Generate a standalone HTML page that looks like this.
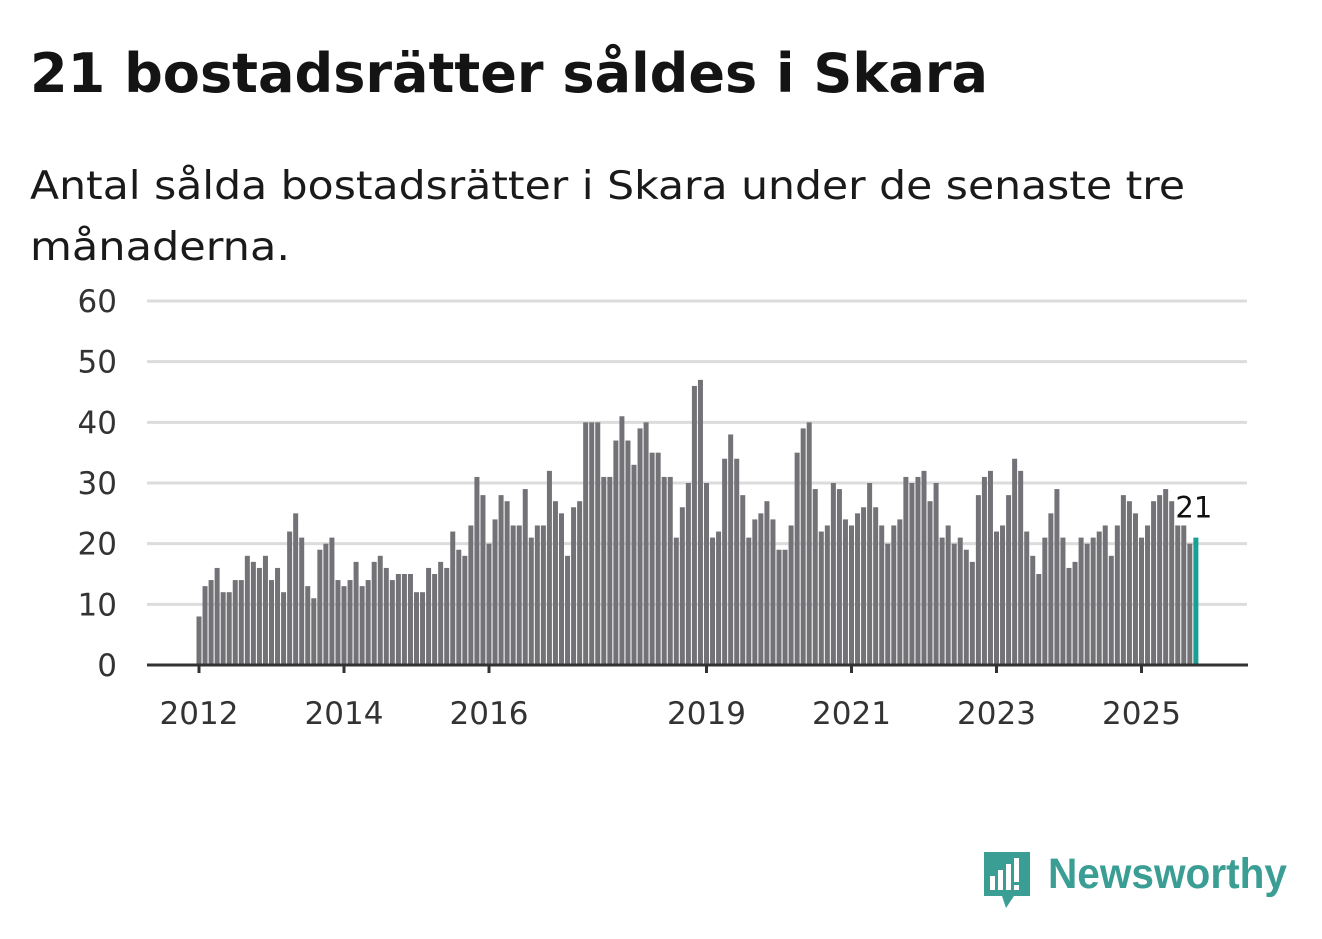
<!DOCTYPE html>
<html><head><meta charset="utf-8"><style>
html,body{margin:0;padding:0;background:#fff;}
svg{display:block;font-family:"DejaVu Sans","Liberation Sans",sans-serif;}
</style></head><body>
<svg width="1322" height="939" viewBox="0 0 1322 939">
<text x="30" y="92" font-size="54" font-weight="bold" fill="#141414" textLength="958" lengthAdjust="spacingAndGlyphs">21 bostadsrätter såldes i Skara</text>
<text x="30" y="199" font-size="39" fill="#1a1a1a" textLength="1155" lengthAdjust="spacingAndGlyphs">Antal sålda bostadsrätter i Skara under de senaste tre</text>
<text x="30" y="260" font-size="39" fill="#1a1a1a" textLength="260" lengthAdjust="spacingAndGlyphs">månaderna.</text>
<g id="grid"></g>
<g id="bars"></g>
<g id="xaxis"></g>
<g>
<path d="M984 852 h46 v44 h-16 l-8 12 l-4 -12 h-18 z" fill="#3a9e94"/>
<rect x="990" y="876" width="5" height="14" fill="#fff"/>
<rect x="998" y="870" width="5" height="20" fill="#fff"/>
<rect x="1006" y="864" width="5" height="26" fill="#fff"/>
<rect x="1014" y="858" width="5" height="24" fill="#fff"/>
<rect x="1014" y="885" width="5" height="5" fill="#fff"/>
<text x="1048" y="888" font-size="43" font-weight="bold" fill="#3a9e94" font-family="Liberation Sans, sans-serif" textLength="239" lengthAdjust="spacingAndGlyphs">Newsworthy</text>
</g>
</svg>
<script>
const years = [2012,2013,2014,2015,2016,2017,2018,2019,2020,2021,2022,2023,2024,2025];
const values = [
8,13,14,16,12,12,14,14,18,17,16,18,
14,16,12,22,25,21,13,11,19,20,21,14,
13,14,17,13,14,17,18,16,14,15,15,15,
12,12,16,15,17,16,22,19,18,23,31,28,
20,24,28,27,23,23,29,21,23,23,32,27,
25,18,26,27,40,40,40,31,31,37,41,37,
33,39,40,35,35,31,31,21,26,30,46,47,
30,21,22,34,38,34,28,21,24,25,27,24,
19,19,23,35,39,40,29,22,23,30,29,24,
23,25,26,30,26,23,20,23,24,31,30,31,
32,27,30,21,23,20,21,19,17,28,31,32,
22,23,28,34,32,22,18,15,21,25,29,21,
16,17,21,20,21,22,23,18,23,28,27,25,
21,23,27,28,29,27,23,23,20,21
];
const yTicks = [0,10,20,30,40,50,60];
const xTickYears = [2012,2014,2016,2019,2021,2023,2025];
const NS="http://www.w3.org/2000/svg";
const y0=665, pxPerUnit=(665-301)/60;
const x0=199, pxPerMonth=72.5/12;
function yScale(v){return y0-v*pxPerUnit;}
function xScale(i){return x0+i*pxPerMonth;}
function mk(tag,attrs,parent){const e=document.createElementNS(NS,tag);for(const k in attrs)e.setAttribute(k,attrs[k]);parent.appendChild(e);return e;}
const grid=document.getElementById('grid');
yTicks.forEach(t=>{
  if(t>0){const l=mk('line',{x1:147,x2:1247,y1:yScale(t),y2:yScale(t),stroke:'#dcdcdc','stroke-width':3},grid);
  
  }
  const tx=mk('text',{x:117,y:yScale(t)+11,'font-size':31,'text-anchor':'end',fill:'#333'},grid);
  tx.textContent=t;
  
  
});
const bars=document.getElementById('bars');
values.forEach((v,i)=>{
  const last=i===values.length-1;
  const r=mk('rect',{x:xScale(i)-2.5,y:yScale(v),width:5,height:y0-yScale(v),fill:last?'#17a093':'#737277'},bars);
  
  
});
const li=values.length-1;
const lbl=mk('text',{x:xScale(li)-2,y:yScale(values[li])-20,'font-size':29,'text-anchor':'middle',fill:'#111',stroke:'#fff','stroke-width':5,'paint-order':'stroke'},bars);
lbl.textContent=values[li];


const xa=document.getElementById('xaxis');
const ax=mk('line',{x1:147,x2:1248,y1:665,y2:665,stroke:'#333','stroke-width':3},xa);


xTickYears.forEach(yr=>{
  const i=(yr-years[0])*12;
  const x=xScale(i);
  const tk=mk('line',{x1:x,x2:x,y1:665,y2:673,stroke:'#333','stroke-width':3},xa);
  
  
  const t=mk('text',{x:x,y:724,'font-size':31,'text-anchor':'middle',fill:'#333'},xa);
  t.textContent=yr;
  
  
});
</script>
</body></html>
